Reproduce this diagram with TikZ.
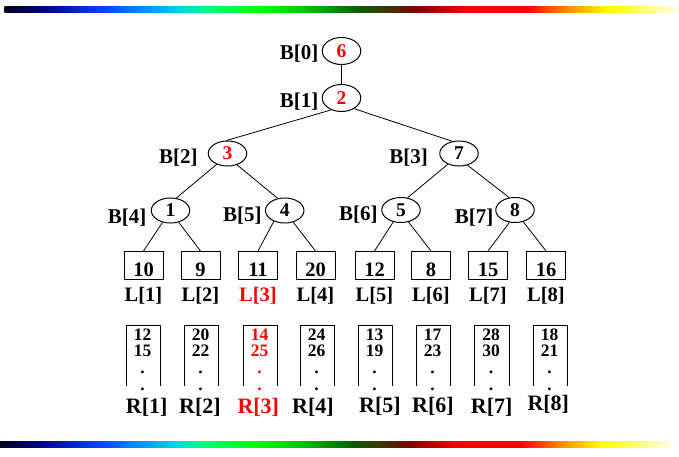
\documentclass[tikz,border=0pt]{standalone}
\usepackage{fontspec}
\setmainfont{Liberation Serif}
\usetikzlibrary{shapes.geometric}
\definecolor{red1}{RGB}{255,0,0}
\definecolor{g0}{HTML}{000020}
\definecolor{g1}{HTML}{000080}
\definecolor{g2}{HTML}{0048FF}
\definecolor{g3}{HTML}{0090FF}
\definecolor{g4}{HTML}{00D8E0}
\definecolor{g5}{HTML}{00FF70}
\definecolor{g6}{HTML}{00FF10}
\definecolor{g7}{HTML}{00C800}
\definecolor{g8}{HTML}{006400}
\definecolor{g9}{HTML}{403000}
\definecolor{g10}{HTML}{800000}
\definecolor{g11}{HTML}{FF0000}
\definecolor{g12}{HTML}{FF0000}
\definecolor{g13}{HTML}{FF8000}
\definecolor{g14}{HTML}{FFFF00}
\definecolor{g15}{HTML}{FFFFE8}
\tikzset{
  bnode/.style={draw, line width=1pt, ellipse, minimum width=38.5pt, minimum height=25pt, inner sep=0pt, font=\fontsize{19.5}{19}\selectfont\bfseries},
  leafbox/.style={draw, line width=1pt, rectangle, minimum width=39pt, minimum height=28pt, inner sep=0pt, text height=22pt, text depth=0pt, font=\fontsize{20.5}{20}\selectfont\bfseries},
  runbox/.style={rectangle, minimum width=34pt, minimum height=60pt, inner sep=0pt},
  runside/.style={line width=1pt},
  conn/.style={line width=0.8pt},
  blabel/.style={anchor=base, inner sep=0pt, font=\fontsize{21}{21}\selectfont\bfseries},
  llabel/.style={anchor=base, inner sep=0pt, font=\fontsize{20.5}{20}\selectfont\bfseries},
  rlabel/.style={anchor=base, inner sep=0pt, font=\fontsize{22}{22}\selectfont\bfseries},
  runtxt/.style={anchor=base, inner sep=0pt, align=center, font=\fontsize{17.5}{16.8}\selectfont\bfseries},
}
\begin{document}
\begin{tikzpicture}[x=1pt,y=-1pt]
\useasboundingbox (0,0) rectangle (679,457);
% gradient bars
\foreach \a/\ca/\b/\cb in {0/g0/0.057/g1, 0.057/g1/0.153/g2, 0.153/g2/0.205/g3, 0.205/g3/0.263/g4, 0.263/g4/0.308/g5, 0.308/g5/0.379/g6, 0.379/g6/0.443/g7, 0.443/g7/0.520/g8, 0.520/g8/0.572/g9, 0.572/g9/0.610/g10, 0.610/g10/0.688/g11, 0.688/g11/0.775/g12, 0.775/g12/0.829/g13, 0.829/g13/0.894/g14, 0.894/g14/1/g15} {
  \shade[left color=\ca, right color=\cb] ({5+674*\a-0.3},6.7) rectangle ({5+674*\b+0.3},12.7);
  \shade[left color=\ca, right color=\cb] ({672*\a-0.3},441.7) rectangle ({672*\b+0.3},447.7);
}
% tree nodes
\node[bnode, minimum height=27pt, text=red1] (B0) at (341.5,51) {6};
\node[bnode, minimum height=27pt, text=red1] (B1) at (341.5,98) {2};
\node[bnode, text=red1] (B2) at (227.5,153.5) {3};
\node[bnode] (B3) at (459,153.5) {7};
\node[bnode] (B4) at (170.5,210.5) {1};
\node[bnode] (B5) at (284.7,210.5) {4};
\node[bnode] (B6) at (401,210) {5};
\node[bnode] (B7) at (515,210) {8};
% B labels
\node[blabel] (bl0) at (299,59.3) {B[0]};
\node[blabel] (bl1) at (299,107.5) {B[1]};
\node[blabel] (bl2) at (178.3,163.3) {B[2]};
\node[blabel] (bl3) at (408.7,163.3) {B[3]};
\node[blabel] (bl4) at (127,223.3) {B[4]};
\node[blabel] (bl5) at (242.3,221) {B[5]};
\node[blabel] (bl6) at (358.3,220) {B[6]};
\node[blabel] (bl7) at (474,223.3) {B[7]};
% leaves
\foreach \i/\x/\v/\c in {1/143.5/10/black, 2/200.5/9/black, 3/258/11/red1, 4/315.5/20/black, 5/374.5/12/black, 6/431/8/black, 7/488/15/black, 8/546/16/black} {
  \node[leafbox] (L\i) at (\x,265.5) {\v};
  \node[llabel, text=\c] (ll\i) at (\x,301.5) {L[\i]};
}
% edges
\draw[conn] (B0.south) -- (B1.north);
\draw[conn] (B1.-131) -- (B2.95);
\draw[conn] (B1.-40) -- (B3.119);
\draw[conn] (B2.-135) -- (B4.65);
\draw[conn] (B2.-50) -- (B5.120);
\draw[conn] (B3.-136) -- (B6.62);
\draw[conn] (B3.-54) -- (B7.115);
\draw[conn] (B4.-124) -- (L1.north);
\draw[conn] (B4.-55) -- (L2.north);
\draw[conn] (B5.-135) -- (L3.north);
\draw[conn] (B5.-54) -- (L4.north);
\draw[conn] (B6.-123) -- (L5.north);
\draw[conn] (B6.-58) -- (L6.north);
\draw[conn] (B7.-114) -- (L7.north);
\draw[conn] (B7.-55) -- (L8.north);
% runs
\foreach \i/\x/\p/\q/\c/\rx/\ry in {1/143.5/12/15/black/146.7/413.3, 2/201.5/20/22/black/200/413.3, 3/260.5/14/25/red1/258.3/413.3, 4/317.5/24/26/black/313/413.3, 5/375.5/13/19/black/380/412.7, 6/433.5/17/23/black/433/412.7, 7/492/28/30/black/491.7/413, 8/550.5/18/21/black/548.3/410} {
  \node[runbox] (Rb\i) at (\x,355.5) {};
  \draw[runside] (Rb\i.south west) -- (Rb\i.north west) -- (Rb\i.north east) -- (Rb\i.south east);
  \node[runtxt, text=\c] (rt\i) at (\x-1,390.4) {\p\\\q\\.\\.};
  \node[rlabel, text=\c] (rl\i) at (\rx,\ry) {R[\i]};
}
\end{tikzpicture}
\end{document}
